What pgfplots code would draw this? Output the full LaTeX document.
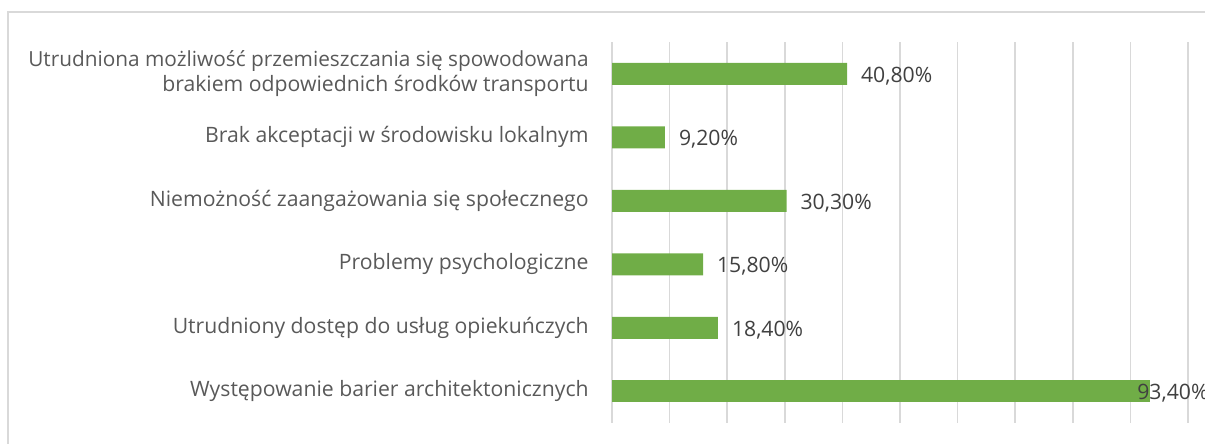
\documentclass[border=0pt]{standalone}
\usepackage{pgfplots}
\pgfplotsset{compat=1.18}
\usepackage{fontspec}
\setmainfont{Open Sans}
\definecolor{barg}{HTML}{70AD47}
\definecolor{gridc}{HTML}{D9D9D9}
\definecolor{labc}{HTML}{595959}
\definecolor{valc}{HTML}{404040}
\begin{document}
\begin{tikzpicture}[x=0.75pt,y=0.75pt]
\useasboundingbox (0,0) rectangle (1205,443);
\draw[gridc, line width=1.2pt] (8,-5) -- (8,431) -- (1210,431);
\begin{axis}[
  at={(459pt,15pt)}, anchor=south west,
  width=432pt, height=285.75pt, scale only axis,
  xmin=0, xmax=100, ymin=0.5, ymax=6.5, y dir=reverse,
  axis line style={draw=none},
  xtick={0,10,...,100}, xticklabels={},
  xmajorgrids, major grid style={gridc, line width=1.3pt},
  ytick={1,2,3,4,5,6},
  yticklabels={{\fontsize{15.6}{19}\selectfont Utrudniona możliwość przemieszczania się spowodowana\\brakiem odpowiednich środków transportu},
    {Brak akceptacji w środowisku lokalnym},
    {Niemożność zaangażowania się społecznego},
    {Problemy psychologiczne},
    {Utrudniony dostęp do usług opiekuńczych},
    {Występowanie barier architektonicznych}},
  yticklabel style={font=\fontsize{15.9}{19}\selectfont, text=labc, align=right, xshift=-14pt},
  tick style={draw=none},
  major tick length=0pt,
  /pgf/number format/assume math mode=true,
  xbar, bar width=16.5pt, bar shift=0pt,
  nodes near coords={\pgfmathprintnumber[fixed,fixed zerofill,precision=2,use comma,assume math mode=true]{\pgfplotspointmeta}\%},
  nodes near coords style={font=\fontsize{15.9}{18}\selectfont, text=valc, anchor=west, xshift=7pt, yshift=-1.5pt},
  point meta=x,
  clip=false,
]
\addplot[fill=barg, draw=none] coordinates {(40.8,1) (9.2,2) (30.3,3) (15.8,4) (18.4,5)};
\addplot[fill=barg, draw=none, nodes near coords style={xshift=-20pt}] coordinates {(93.4,6)};
\end{axis}
\end{tikzpicture}
\end{document}
